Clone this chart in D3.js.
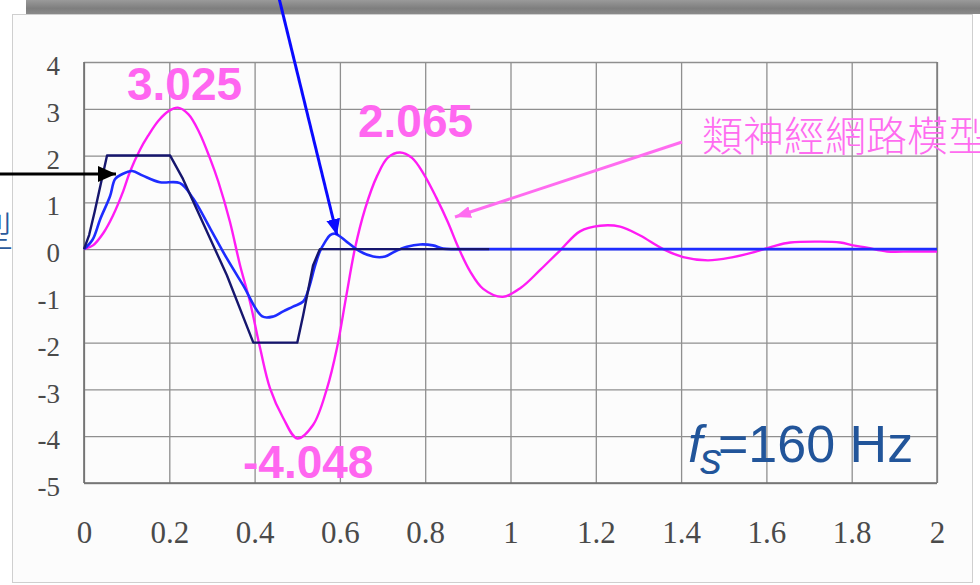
<!DOCTYPE html>
<html><head><meta charset="utf-8">
<script src="https://cdn.jsdelivr.net/npm/d3@7"></script>
<style>html,body{margin:0;padding:0;background:#fff;}svg{display:block;}</style>
</head><body>
<svg id="c" width="980" height="585"></svg>
<script>
// ---- data ----
const xTicks = [0,0.2,0.4,0.6,0.8,1,1.2,1.4,1.6,1.8,2];
const xTickLabels = ["0","0.2","0.4","0.6","0.8","1","1.2","1.4","1.6","1.8","2"];
const yTicks = [4,3,2,1,0,-1,-2,-3,-4,-5];
const yTickLabels = ["4","3","2","1","0","-1","-2","-3","-4","-5"];

// neural-network model response (magenta)
const nnT = [0,0.021,0.045,0.068,0.092,0.108,0.131,0.15,0.175,0.2,0.22,0.245,0.27,0.295,0.315,0.342,0.366,0.389,0.413,0.436,0.467,0.5,0.537,0.57,0.593,0.615,0.635,0.659,0.687,0.713,0.741,0.769,0.797,0.826,0.853,0.877,0.905,0.936,0.982,1.025,1.069,1.116,1.163,1.21,1.257,1.304,1.358,1.405,1.463,1.522,1.569,1.616,1.656,1.726,1.773,1.803,1.836,1.883,1.94,2.0];
const nnV = [0,0.08,0.34,0.72,1.24,1.66,2.12,2.42,2.75,2.96,3.025,2.88,2.5,1.95,1.44,0.59,-0.35,-1.12,-2.12,-2.97,-3.61,-4.048,-3.76,-2.97,-2.12,-1.0,0,0.86,1.56,1.96,2.065,1.95,1.6,1.1,0.58,0.05,-0.47,-0.85,-1.02,-0.82,-0.45,-0.03,0.38,0.5,0.48,0.29,0,-0.17,-0.24,-0.17,-0.07,0.06,0.14,0.16,0.14,0.08,0.03,-0.05,-0.05,-0.05];

// measured response (blue)
const measT = [0,0.02,0.038,0.061,0.073,0.089,0.113,0.138,0.178,0.225,0.256,0.296,0.335,0.373,0.418,0.444,0.467,0.49,0.514,0.525,0.542,0.553,0.565,0.577,0.589,0.617,0.647,0.678,0.706,0.729,0.757,0.788,0.818,0.842,0.87,0.9,1.2,1.6,2.0];
const measV = [0,0.2,0.64,1.13,1.5,1.6,1.67,1.57,1.43,1.41,1.08,0.44,-0.2,-0.77,-1.44,-1.44,-1.33,-1.23,-1.12,-0.9,-0.35,-0.05,0.15,0.3,0.33,0.15,-0.05,-0.16,-0.16,-0.05,0.05,0.1,0.08,0.01,0,0,0,0,0];

// reference input (navy trapezoid)
const refT = [0,0.012,0.025,0.054,0.202,0.232,0.335,0.397,0.5,0.514,0.537,0.553,0.95];
const refV = [0,0.3,0.8,2,2,1.5,-0.56,-2,-2,-1.41,-0.35,0,0];

const peakLabels = ["3.025","2.065","-4.048"];
const modelLabel = "類神經網路模型";
const leftLabel = "實際模型";

// ---- layout ----
const svg = d3.select("#c");
const X0=84, X1=937, Y0=62, Y1=483;
const x = d3.scaleLinear().domain([0,2]).range([X0,X1]);
const y = d3.scaleLinear().domain([-5,4]).range([Y1,Y0]);

const defs = svg.append("defs");
const g1 = defs.append("linearGradient").attr("id","bar").attr("x1",0).attr("y1",0).attr("x2",0).attr("y2",1);
g1.append("stop").attr("offset","0%").attr("stop-color","#9a9a9a");
g1.append("stop").attr("offset","60%").attr("stop-color","#7e7e7e");
g1.append("stop").attr("offset","100%").attr("stop-color","#8a8a8a");
function marker(id,color,w,h){
  defs.append("marker").attr("id",id).attr("viewBox",`0 0 ${w} ${h}`).attr("refX",w).attr("refY",h/2)
   .attr("markerWidth",w).attr("markerHeight",h).attr("markerUnits","userSpaceOnUse").attr("orient","auto")
   .append("path").attr("d",`M0,0L${w},${h/2}L0,${h}Z`).attr("fill",color);
}
marker("ab","#0a0aff",16,14);
marker("ak","#000",18,16);
marker("am","#ff6cf0",16,12);

// frame and top shadow bar
svg.append("rect").attr("x",26).attr("y",0).attr("width",954).attr("height",14).attr("fill","url(#bar)");
svg.append("rect").attr("x",12.5).attr("y",14.5).attr("width",960).attr("height",568).attr("fill","#fcfcfc").attr("stroke","#cfcfcf");

// grid via axes
const gx = svg.append("g").attr("transform",`translate(0,${Y1})`)
  .call(d3.axisBottom(x).tickValues(xTicks).tickSize(-(Y1-Y0)).tickFormat(""));
gx.select(".domain").remove();
gx.selectAll("line").attr("stroke","#8f8f8f").attr("stroke-width",1.3);
const gy = svg.append("g").attr("transform",`translate(${X0},0)`)
  .call(d3.axisLeft(y).tickValues(yTicks).tickSize(-(X1-X0)).tickFormat(""));
gy.select(".domain").remove();
gy.selectAll("line").attr("stroke","#8f8f8f").attr("stroke-width",1.3);
// border lines
svg.append("line").attr("x1",X0).attr("x2",X0).attr("y1",Y0).attr("y2",Y1).attr("stroke","#6e6e6e").attr("stroke-width",1.6);
svg.append("line").attr("x1",X0).attr("x2",X1).attr("y1",Y1).attr("y2",Y1).attr("stroke","#6e6e6e").attr("stroke-width",1.6);
svg.append("line").attr("x1",X1).attr("x2",X1).attr("y1",Y0).attr("y2",Y1).attr("stroke","#7a7a7a").attr("stroke-width",1.4);

// tick labels via axes
const lx = svg.append("g").attr("transform",`translate(0,${Y1})`)
  .call(d3.axisBottom(x).tickValues(xTicks).tickSize(0).tickPadding(38).tickFormat((d,i)=>xTickLabels[i]));
lx.select(".domain").remove();
lx.selectAll("text").attr("font-family","'Liberation Serif','Times New Roman',serif").attr("font-size",31).attr("fill","#4a4a4a");
const ly = svg.append("g").attr("transform",`translate(60,4)`)
  .call(d3.axisLeft(y).tickValues(yTicks).tickSize(0).tickPadding(0).tickFormat((d,i)=>yTickLabels[i]));
ly.select(".domain").remove();
ly.selectAll("text").attr("font-family","'Liberation Serif','Times New Roman',serif").attr("font-size",27).attr("fill","#4a4a4a");

// curves
const zip = (T,V)=>T.map((t,i)=>[t,V[i]]);
const lineC = d3.line().x(d=>x(d[0])).y(d=>y(d[1])).curve(d3.curveCatmullRom.alpha(0.5));
const lineL = d3.line().x(d=>x(d[0])).y(d=>y(d[1]));
svg.append("path").attr("d",lineC(zip(nnT,nnV))).attr("fill","none").attr("stroke","#ff1cf4").attr("stroke-width",2.4);
svg.append("path").attr("d",lineC(zip(measT,measV))).attr("fill","none").attr("stroke","#1e2cff").attr("stroke-width",2.6).attr("stroke-linejoin","round");
svg.append("path").attr("d",lineL(zip(refT,refV))).attr("fill","none").attr("stroke","#16166e").attr("stroke-width",2.4).attr("stroke-linejoin","round");

// peak labels
const pk = [[127,100],[358,137],[243,478]];
peakLabels.forEach((s,i)=>{
  svg.append("text").attr("x",pk[i][0]).attr("y",pk[i][1]).text(s)
   .attr("font-family","'Liberation Sans',Arial,sans-serif").attr("font-weight","bold").attr("font-size",46).attr("fill","#ff66f0");
});

// arrows
svg.append("line").attr("x1",279).attr("y1",-2).attr("x2",337).attr("y2",235).attr("stroke","#0a0aff").attr("stroke-width",3).attr("marker-end","url(#ab)");
svg.append("line").attr("x1",-2).attr("y1",174).attr("x2",116).attr("y2",174).attr("stroke","#000").attr("stroke-width",3).attr("marker-end","url(#ak)");
svg.append("line").attr("x1",682).attr("y1",142).attr("x2",455).attr("y2",217).attr("stroke","#ff6cf0").attr("stroke-width",3).attr("marker-end","url(#am)");

// texts
svg.append("text").attr("x",702).attr("y",151).text(modelLabel)
  .attr("font-family","'Noto Sans CJK TC','Noto Sans CJK SC',sans-serif").attr("font-weight",300).attr("font-size",41).attr("fill","#ff6cf0");
svg.append("text").attr("x",13).attr("y",247).attr("text-anchor","end").text(leftLabel)
  .attr("font-family","'Noto Sans CJK TC',sans-serif").attr("font-weight",300).attr("font-size",41).attr("fill","#2a5a9c");
const fs = svg.append("g").attr("font-family","'Liberation Sans',Arial,sans-serif").attr("fill","#22559a");
fs.append("text").attr("x",688).attr("y",462).attr("font-size",52).attr("font-style","italic").text("f");
fs.append("text").attr("x",700).attr("y",474).attr("font-size",44).attr("font-style","italic").text("s");
fs.append("text").attr("x",718).attr("y",462).attr("font-size",52).text("=160 Hz");
</script>
</body></html>
